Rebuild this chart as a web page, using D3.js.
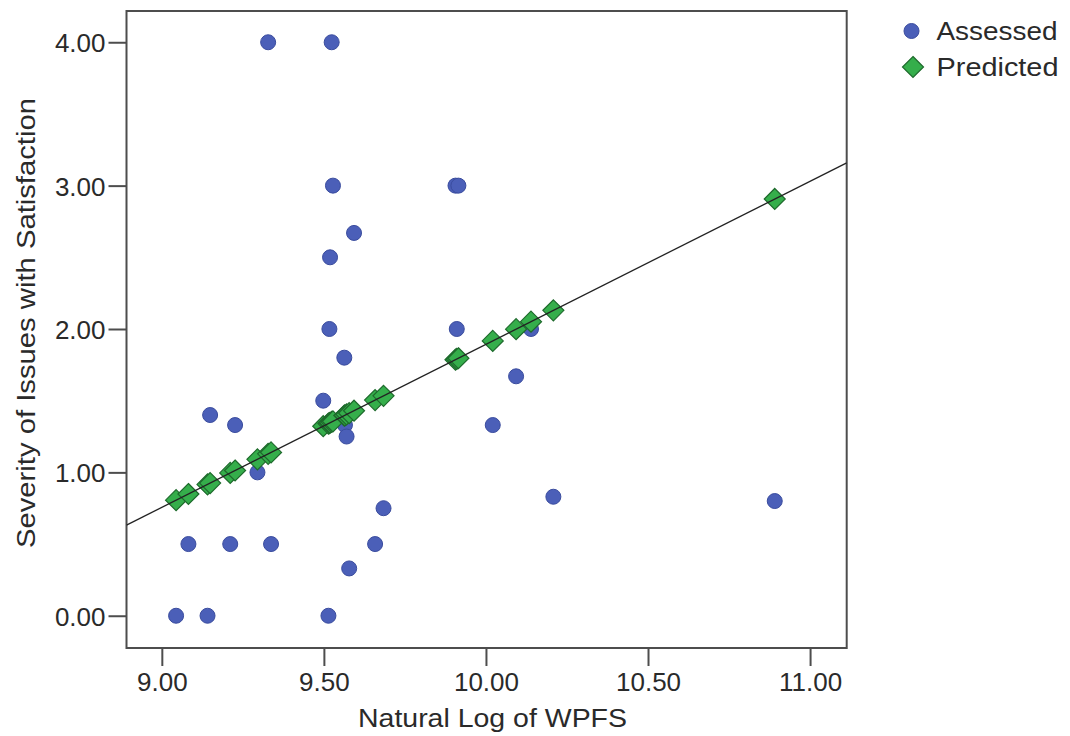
<!DOCTYPE html>
<html>
<head>
<meta charset="utf-8">
<script src="https://cdn.jsdelivr.net/npm/d3@7/dist/d3.min.js"></script>
<style>
  html, body { margin: 0; padding: 0; background: #fff; }
  svg { display: block; }
  text { font-family: "Liberation Sans", Arial, sans-serif; fill: #2a2a2a; }
</style>
</head>
<body>
<svg id="chart" width="1070" height="736"></svg>
<script>
// Natural log of WPFS for each case
const logWPFS = [9.044, 9.082, 9.141, 9.149, 9.211, 9.226, 9.295, 9.328, 9.337, 9.498,
                 9.514, 9.517, 9.519, 9.524, 9.528, 9.563, 9.565, 9.570, 9.578, 9.593,
                 9.658, 9.684, 9.906, 9.910, 9.915, 10.021, 10.093, 10.139, 10.208, 10.891];
// Assessed severity of issues with satisfaction
const assessed = [0.00, 0.50, 0.00, 1.40, 0.50, 1.33, 1.00, 4.00, 0.50, 1.50,
                  0.00, 2.00, 2.50, 4.00, 3.00, 1.80, 1.33, 1.25, 0.33, 2.67,
                  0.50, 0.75, 3.00, 2.00, 3.00, 1.33, 1.67, 2.00, 0.83, 0.80];
// Predicted severity from the linear fit
const predicted = [0.806, 0.849, 0.916, 0.925, 0.996, 1.013, 1.091, 1.129, 1.139, 1.322,
                   1.340, 1.344, 1.346, 1.352, 1.356, 1.396, 1.398, 1.404, 1.413, 1.430,
                   1.504, 1.534, 1.786, 1.791, 1.796, 1.917, 1.999, 2.051, 2.130, 2.907];
// Fit line end points (spanning the plot's x range)
const fitLineX = [8.891, 11.113];
const fitLineY = [0.632, 3.159];

const xTicks = [9.0, 9.5, 10.0, 10.5, 11.0];
const yTicks = [0, 1, 2, 3, 4];
const legendLabels = ["Assessed", "Predicted"];
const xTitle = "Natural Log of WPFS";
const yTitle = "Severity of Issues with Satisfaction";

const plot = { left: 126.5, right: 846.7, top: 11, bottom: 648 };
const blueFill = "#4b5fb8", blueStroke = "#3a4c9e";
const greenFill = "#35ae4b", greenStroke = "#1e6a2c";
const axisColor = "#4d4d4d";

const svg = d3.select("#chart");

const x = d3.scaleLinear().domain([8.891, 11.113]).range([plot.left, plot.right]);
const y = d3.scaleLinear().domain([-0.225, 4.218]).range([plot.bottom, plot.top]);

// Axes
const xAxis = d3.axisBottom(x).tickValues(xTicks).tickFormat(d3.format(".2f"))
  .tickSizeInner(18).tickSizeOuter(0).tickPadding(7);
const yAxis = d3.axisLeft(y).tickValues(yTicks).tickFormat(d3.format(".2f"))
  .tickSizeInner(18).tickSizeOuter(0).tickPadding(3);

const gx = svg.append("g").attr("transform", `translate(0,${plot.bottom})`).call(xAxis);
const gy = svg.append("g").attr("transform", `translate(${plot.left},0)`).call(yAxis);
[gx, gy].forEach(g => {
  g.select(".domain").remove();
  g.selectAll(".tick line").attr("stroke", axisColor).attr("stroke-width", 2);
  g.selectAll(".tick text").attr("font-size", 26).attr("fill", "#2a2a2a")
    .style("font-family", "'Liberation Sans', Arial, sans-serif");
});
gy.selectAll(".tick text").attr("dy", "0.36em");

// Plot frame
svg.append("rect")
  .attr("x", plot.left).attr("y", plot.top)
  .attr("width", plot.right - plot.left).attr("height", plot.bottom - plot.top)
  .attr("fill", "none").attr("stroke", axisColor).attr("stroke-width", 2);

svg.append("defs").append("clipPath").attr("id", "plotClip")
  .append("rect").attr("x", plot.left).attr("y", plot.top)
  .attr("width", plot.right - plot.left).attr("height", plot.bottom - plot.top);

const marks = svg.append("g").attr("clip-path", "url(#plotClip)");

// Assessed values
marks.selectAll("circle.assessed")
  .data(d3.range(logWPFS.length))
  .join("circle")
  .attr("class", "assessed")
  .attr("cx", i => x(logWPFS[i]))
  .attr("cy", i => y(assessed[i]))
  .attr("r", 7.5)
  .attr("fill", blueFill)
  .attr("stroke", blueStroke)
  .attr("stroke-width", 1);

// Predicted values as diamonds
const diamond = s => `M0,${-s}L${s},0L0,${s}L${-s},0Z`;
marks.selectAll("path.predicted")
  .data(d3.range(logWPFS.length))
  .join("path")
  .attr("class", "predicted")
  .attr("transform", i => `translate(${x(logWPFS[i])},${y(predicted[i])})`)
  .attr("d", diamond(10.5))
  .attr("fill", greenFill)
  .attr("stroke", greenStroke)
  .attr("stroke-width", 1.2);

// Linear fit line
const line = d3.line().x(d => x(d[0])).y(d => y(d[1]));
marks.append("path")
  .datum(fitLineX.map((v, i) => [v, fitLineY[i]]))
  .attr("d", line)
  .attr("fill", "none")
  .attr("stroke", "#222")
  .attr("stroke-width", 1.3);

// Axis titles
svg.append("text")
  .attr("x", 492.5).attr("y", 727)
  .attr("text-anchor", "middle")
  .attr("font-size", 26)
  .attr("textLength", 269).attr("lengthAdjust", "spacingAndGlyphs")
  .text(xTitle);

svg.append("text")
  .attr("transform", "translate(35,323) rotate(-90)")
  .attr("text-anchor", "middle")
  .attr("font-size", 26)
  .attr("textLength", 450).attr("lengthAdjust", "spacingAndGlyphs")
  .text(yTitle);

// Legend
const legend = svg.append("g");
const legendRows = [
  { label: legendLabels[0], cy: 31, width: 121 },
  { label: legendLabels[1], cy: 67, width: 122 }
];
legend.append("circle")
  .attr("cx", 911.5).attr("cy", legendRows[0].cy).attr("r", 7.5)
  .attr("fill", blueFill).attr("stroke", blueStroke);
legend.append("path")
  .attr("transform", `translate(913,${legendRows[1].cy})`)
  .attr("d", diamond(10.5))
  .attr("fill", greenFill).attr("stroke", greenStroke).attr("stroke-width", 1.2);
legend.selectAll("text")
  .data(legendRows)
  .join("text")
  .attr("x", 936.5)
  .attr("y", d => d.cy + 8.5)
  .attr("font-size", 25)
  .attr("textLength", d => d.width).attr("lengthAdjust", "spacingAndGlyphs")
  .text(d => d.label);
</script>
</body>
</html>
